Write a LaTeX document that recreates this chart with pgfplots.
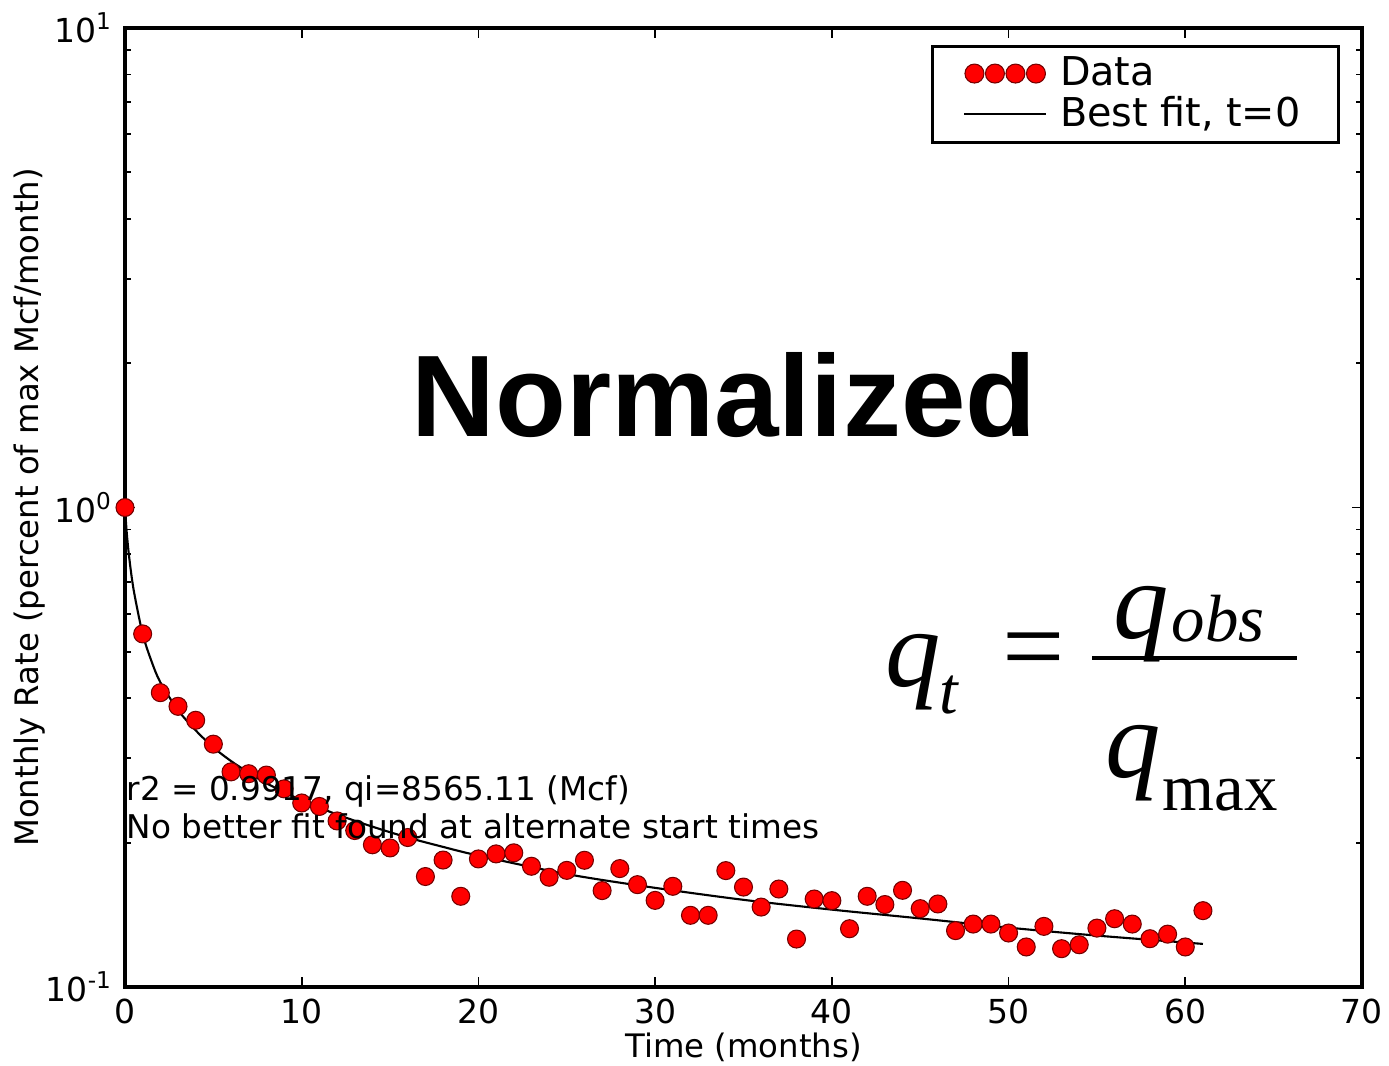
\documentclass[border=0pt]{standalone}
\usepackage{fontspec}
\setmainfont{DejaVu Sans}
\newfontfamily\arialf{Liberation Sans}
\newfontfamily\tnr{Liberation Serif}
\usepackage{pgfplots}
\pgfplotsset{compat=1.18}
\begin{document}
\begin{tikzpicture}
\useasboundingbox (-12.5mm,-7.8mm) rectangle (126.4mm,98.7mm);
\begin{axis}[
  at={(0,0)}, anchor=south west,
  scale only axis, width=123.7mm, height=95.9mm,
  xmin=0, xmax=70, ymin=0.1, ymax=10, ymode=log,
  xtick={0,10,...,70},
  ytick={0.1,1,10},
  yticklabels={10\textsuperscript{-1},10\textsuperscript{0},10\textsuperscript{1}},
  tick align=inside, tick pos=both,
  major tick length=1mm, minor tick length=0.6mm,
  axis line style={line width=1.1pt},
  every tick/.style={black, line width=0.5pt},
  tick label style={font=\fontsize{9.4}{11}\selectfont},
  /pgf/number format/assume math mode=true,
  xlabel={Time (months)},
  ylabel={Monthly Rate (percent of max Mcf/month)},
  label style={font=\fontsize{9.2}{11}\selectfont},
  xlabel style={at={(axis description cs:0.5,-0.0626)}, anchor=center},
  ylabel style={at={(axis description cs:-0.077,0.5)}, anchor=center},
  legend style={draw=black, line width=0.8pt, at={(1,1)}, anchor=north east,
    xshift=-2.2mm, yshift=-1.7mm, font=\fontsize{11.3}{12}\selectfont,
    inner xsep=3.1mm, inner ysep=0.3mm, row sep=-0.8mm,
    /tikz/every odd column/.style={column sep=0.6mm}},
  legend cell align=left,
  clip=false,
]
\addplot[only marks, mark=*, mark size=0.9mm,
  mark options={fill=red, draw=red!45!black, line width=0.3pt},
  legend image code/.code={
    \foreach \xx in {1.0,3.05,5.1,7.15}{
      \fill[red, draw=red!45!black, line width=0.3pt] (\xx mm,0mm) circle (0.95mm);}
  }] coordinates {
(0,1.0) (1,0.545) (2,0.411) (3,0.385) (4,0.360) (5,0.321) (6,0.281) (7,0.2785)
(8,0.2767) (9,0.259) (10,0.242) (11,0.238) (12,0.222) (13,0.212) (14,0.198)
(15,0.195) (16,0.205) (17,0.170) (18,0.184) (19,0.1546) (20,0.185) (21,0.1895)
(22,0.1905) (23,0.1786) (24,0.1694) (25,0.1751) (26,0.1838) (27,0.1589)
(28,0.1766) (29,0.1635) (30,0.1516) (31,0.1622) (32,0.1411) (33,0.1411)
(34,0.1749) (35,0.1616) (36,0.1468) (37,0.1601) (38,0.1259) (39,0.1526)
(40,0.1514) (41,0.1323) (42,0.1546) (43,0.1486) (44,0.1591) (45,0.1457)
(46,0.1490) (47,0.1311) (48,0.1353) (49,0.1353) (50,0.1296) (51,0.1212)
(52,0.1338) (53,0.1202) (54,0.1225) (55,0.1327) (56,0.1388) (57,0.1353)
(58,0.1261) (59,0.1289) (60,0.1212) (61,0.1443)
};
\addlegendentry{Data}
\addplot[black, line width=0.6pt, smooth,
  legend image code/.code={\draw[black, line width=0.6pt] (0.8mm,0mm) -- (7.3mm,0mm); \path (0mm,0mm) -- (8.15mm,0mm);}]
  coordinates {
(0,1.0) (0.1,0.885) (0.25,0.78) (0.5,0.67) (1,0.545) (1.5,0.478) (2,0.432)
(3,0.378) (4,0.343) (5,0.316) (6,0.296) (7,0.280) (8,0.266) (10,0.245)
(12,0.229) (14,0.216) (16,0.205) (18,0.196) (20,0.188) (25,0.172) (30,0.161)
(35,0.152) (40,0.145) (45,0.139) (50,0.133) (55,0.128) (61,0.123)
};
\addlegendentry{Best fit, t=0}
\end{axis}
% annotations
\node[anchor=base west, inner sep=0pt, font=\fontsize{9.3}{11}\selectfont] at (0.1mm,18.7mm) {r2 = 0.9917, qi=8565.11 (Mcf)};
\node[anchor=base west, inner sep=0pt, font=\fontsize{9.3}{11}\selectfont] at (0.1mm,14.9mm) {No better fit found at alternate start times};
\node[anchor=center, inner sep=0pt, font=\arialf\bfseries\fontsize{33}{36}\selectfont] at (59.9mm,59.2mm) {Normalized};
% formula
\node[anchor=base west, inner sep=0pt, font=\tnr\itshape\fontsize{31.5}{34}\selectfont] at (76.0mm,30.1mm) {q};
\node[anchor=base west, inner sep=0pt, font=\tnr\itshape\fontsize{19}{21}\selectfont] at (81.4mm,27.4mm) {t};
\node[anchor=center, inner sep=0pt, font=\tnr\fontsize{31.5}{34}\selectfont] at (90.9mm,32.9mm) {=};
\draw[line width=0.4mm] (96.7mm,32.9mm) -- (117.2mm,32.9mm);
\node[anchor=base west, inner sep=0pt, font=\tnr\itshape\fontsize{31.5}{34}\selectfont] at (98.8mm,34.9mm) {q};
\node[anchor=base west, inner sep=0pt, font=\tnr\itshape\fontsize{19}{21}\selectfont] at (104.6mm,34.5mm) {obs};
\node[anchor=base west, inner sep=0pt, font=\tnr\itshape\fontsize{31.5}{34}\selectfont] at (98.0mm,21.0mm) {q};
\node[anchor=base west, inner sep=0pt, font=\tnr\fontsize{19}{21}\selectfont] at (103.7mm,17.7mm) {max};
\end{tikzpicture}
\end{document}
